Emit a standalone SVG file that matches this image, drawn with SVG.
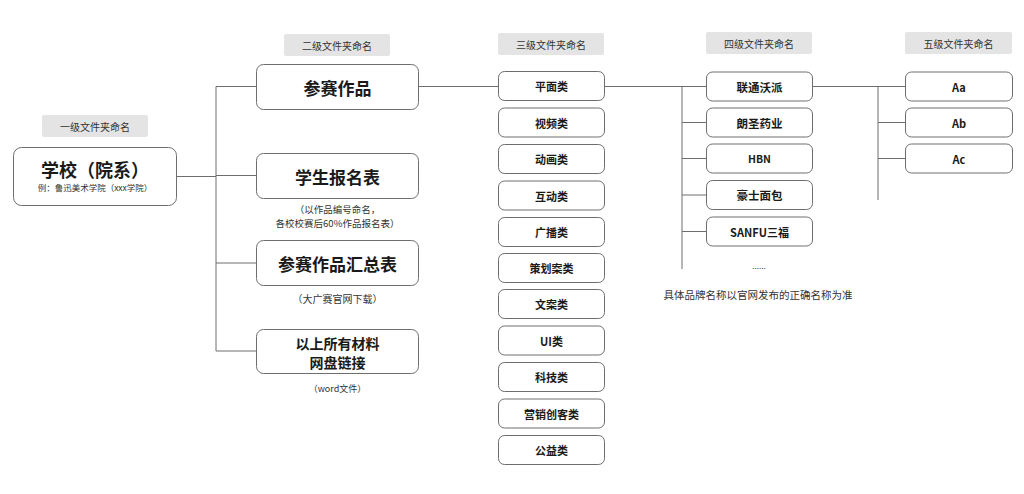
<svg xmlns="http://www.w3.org/2000/svg" width="1024" height="494" viewBox="0 0 1024 494">
<style>
.bg{fill:#ffffff}
.box{fill:#ffffff;stroke:#6e6e6e;stroke-width:1}
.tag{fill:#e4e4e4}
.tagt{font-family:"Noto Sans CJK SC","Liberation Sans",sans-serif;font-size:10px;fill:#333;text-anchor:middle;dominant-baseline:central}
.t{font-family:"Noto Sans CJK SC","Liberation Sans",sans-serif;font-weight:bold;fill:#1a1a1a;text-anchor:middle;dominant-baseline:central}
.s{font-family:"Noto Sans CJK SC","Liberation Sans",sans-serif;fill:#333;text-anchor:middle;dominant-baseline:central}
.c{fill:none;stroke:#6e6e6e;stroke-width:1}
</style>
<rect class="bg" x="0" y="0" width="1024" height="494"/>

<g id="connectors">
<path class="c" d="M176,176.5 H216 M216,86.5 V351 M216,86.5 H256 M216,175.5 H256 M216,263 H256 M216,351 H256"/>
<path class="c" d="M418,86.5 H498"/>
<path class="c" d="M604,86.5 H706 M682,86.5 V269 M682,122.5 H706 M682,158.5 H706 M682,195 H706 M682,231.5 H706"/>
<path class="c" d="M812,86.5 H905 M878,86.5 V200 M878,122.5 H905 M878,158.5 H905"/>
</g>

<g id="tags">
<rect class="tag" x="42" y="115" width="106" height="22" rx="2"/>
<text class="tagt" x="95" y="126">一级文件夹命名</text>
<rect class="tag" x="284" y="34" width="106" height="22" rx="2"/>
<text class="tagt" x="337" y="45">二级文件夹命名</text>
<rect class="tag" x="498" y="33" width="106" height="22" rx="2"/>
<text class="tagt" x="551" y="44">三级文件夹命名</text>
<rect class="tag" x="706" y="32" width="106" height="22" rx="2"/>
<text class="tagt" x="759" y="43">四级文件夹命名</text>
<rect class="tag" x="905" y="32" width="107" height="22" rx="2"/>
<text class="tagt" x="958.5" y="43">五级文件夹命名</text>
</g>

<g id="school">
<rect class="box" x="13.5" y="147.5" width="163" height="58" rx="8"/>
<text class="t" x="95" y="168.5" font-size="18">学校（院系）</text>
<text class="s" x="95" y="186.5" font-size="8.5">例：鲁迅美术学院（xxx学院）</text>
</g>

<g id="l2-works">
<rect class="box" x="256.5" y="64.5" width="162" height="45" rx="7"/>
<text class="t" x="337.5" y="87" font-size="17">参赛作品</text>
</g>
<g id="l2-form">
<rect class="box" x="256.5" y="153.5" width="162" height="45" rx="7"/>
<text class="t" x="337.5" y="176" font-size="17">学生报名表</text>
<text class="s" x="337.5" y="209" font-size="9.5">（以作品编号命名，</text>
<text class="s" x="337.5" y="223" font-size="9.5">各校校赛后60%作品报名表）</text>
</g>
<g id="l2-summary">
<rect class="box" x="256.5" y="240.5" width="162" height="45" rx="7"/>
<text class="t" x="337.5" y="263" font-size="17">参赛作品汇总表</text>
<text class="s" x="337.5" y="298" font-size="10">（大广赛官网下载）</text>
</g>
<g id="l2-links">
<rect class="box" x="256.5" y="329.5" width="162" height="44" rx="7"/>
<text class="t" x="337.5" y="343" font-size="14"><tspan x="337.5" y="342.5">以上所有材料</tspan><tspan x="337.5" y="361.5">网盘链接</tspan></text>
<text class="s" x="337.5" y="388" font-size="9">（word文件）</text>
</g>

<g id="l3-0"><rect class="box" x="498.5" y="71.5" width="106" height="29" rx="6"/><text class="t" x="551.5" y="86" font-size="11">平面类</text></g>
<g id="l3-1"><rect class="box" x="498.5" y="108" width="106" height="29" rx="6"/><text class="t" x="551.5" y="122.5" font-size="11">视频类</text></g>
<g id="l3-2"><rect class="box" x="498.5" y="144.5" width="106" height="29" rx="6"/><text class="t" x="551.5" y="159" font-size="11">动画类</text></g>
<g id="l3-3"><rect class="box" x="498.5" y="181" width="106" height="29" rx="6"/><text class="t" x="551.5" y="195.5" font-size="11">互动类</text></g>
<g id="l3-4"><rect class="box" x="498.5" y="217.5" width="106" height="29" rx="6"/><text class="t" x="551.5" y="232" font-size="11">广播类</text></g>
<g id="l3-5"><rect class="box" x="498.5" y="253.5" width="106" height="29" rx="6"/><text class="t" x="551.5" y="268" font-size="11">策划案类</text></g>
<g id="l3-6"><rect class="box" x="498.5" y="289.5" width="106" height="29" rx="6"/><text class="t" x="551.5" y="304" font-size="11">文案类</text></g>
<g id="l3-7"><rect class="box" x="498.5" y="326" width="106" height="29" rx="6"/><text class="t" x="551.5" y="340.5" font-size="11">UI类</text></g>
<g id="l3-8"><rect class="box" x="498.5" y="362.5" width="106" height="29" rx="6"/><text class="t" x="551.5" y="377" font-size="11">科技类</text></g>
<g id="l3-9"><rect class="box" x="498.5" y="399" width="106" height="29" rx="6"/><text class="t" x="551.5" y="413.5" font-size="11">营销创客类</text></g>
<g id="l3-10"><rect class="box" x="498.5" y="435.5" width="106" height="29" rx="6"/><text class="t" x="551.5" y="450" font-size="11">公益类</text></g>

<g id="l4-0"><rect class="box" x="706.5" y="72" width="106" height="29" rx="6"/><text class="t" x="759.5" y="86.5" font-size="11.5">联通沃派</text></g>
<g id="l4-1"><rect class="box" x="706.5" y="108" width="106" height="29" rx="6"/><text class="t" x="759.5" y="122.5" font-size="11.5">朗圣药业</text></g>
<g id="l4-2"><rect class="box" x="706.5" y="144" width="106" height="29" rx="6"/><text class="t" x="759.5" y="158.5" font-size="10.5">HBN</text></g>
<g id="l4-3"><rect class="box" x="706.5" y="180.5" width="106" height="29" rx="6"/><text class="t" x="759.5" y="195" font-size="11.5">豪士面包</text></g>
<g id="l4-4"><rect class="box" x="706.5" y="217" width="106" height="29" rx="6"/><text class="t" x="759.5" y="231.5" font-size="11">SANFU三福</text></g>
<g id="l4-note">
<text class="s" x="759" y="265" font-size="8" fill="#888">......</text>
<text class="s" x="758" y="294" font-size="10.5" fill="#222">具体品牌名称以官网发布的正确名称为准</text>
</g>

<g id="l5-0"><rect class="box" x="905.5" y="72" width="107" height="29" rx="6"/><text class="t" x="959" y="86.5" font-size="11">Aa</text></g>
<g id="l5-1"><rect class="box" x="905.5" y="108" width="107" height="29" rx="6"/><text class="t" x="959" y="122.5" font-size="11">Ab</text></g>
<g id="l5-2"><rect class="box" x="905.5" y="144" width="107" height="29" rx="6"/><text class="t" x="959" y="158.5" font-size="11">Ac</text></g>
</svg>
